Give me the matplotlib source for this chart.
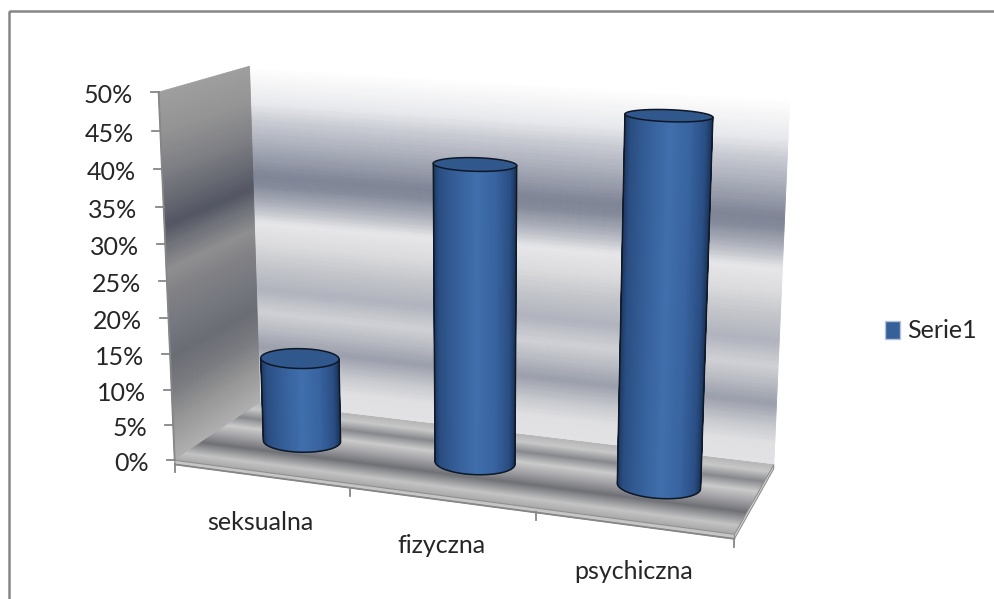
import numpy as np
import matplotlib
matplotlib.use('Agg')
import matplotlib.pyplot as plt
from matplotlib.collections import PolyCollection
from matplotlib.colors import LinearSegmentedColormap
from matplotlib.patches import Polygon, Patch, Rectangle

categories = ['seksualna', 'fizyczna', 'psychiczna']
values = [12, 41, 49]          # percent
series_name = 'Serie1'
y_ticks = list(range(0, 55, 5))
y_max = 50

plt.rcParams['font.family'] = ['Lato', 'DejaVu Sans']
TEXT = '#262626'
AXIS = '#868686'

W, H = 994, 599
fig = plt.figure(figsize=(W / 100, H / 100), dpi=100)
ax = fig.add_axes([0, 0, 1, 1])
ax.set_xlim(0, W)
ax.set_ylim(H, 0)
ax.axis('off')

n = len(categories)

# plot box: x = category index, y = depth (0 front, 1 back), z = value / y_max
box_world = np.array([(0, 0, 0), (0, 0, 1), (0, 1, 0), (0, 1, 1), (n, 1, 0),
                      (n, 1, 1), (n, 0, 0), (1, 0, 0), (2, 0, 0)], float)
box_px = np.array([(176, 460), (160, 90), (260, 403), (248, 67), (775, 463),
                   (790, 100), (735, 533), (349, 485), (533, 510)], float)


def fit_camera(world, px):
    # plain DLT, pixels scaled to about unit range first
    T = np.array([[1 / 500, 0, -1], [0, 1 / 500, -0.6], [0, 0, 1]])
    uv = (T @ np.column_stack([px, np.ones(len(px))]).T).T
    rows = []
    for (x, y, z), (u, v, _) in zip(world, uv):
        p = [x, y, z, 1.0]
        rows.append(p + [0] * 4 + [-u * c for c in p])
        rows.append([0] * 4 + p + [-v * c for c in p])
    _, _, vt = np.linalg.svd(np.array(rows))
    return np.linalg.inv(T) @ vt[-1].reshape(3, 4)


P = fit_camera(box_world, box_px)


def proj(x, y, z):
    x, y, z = np.broadcast_arrays(np.asarray(x, float), np.asarray(y, float),
                                  np.asarray(z, float))
    h = P @ np.vstack([x.ravel(), y.ravel(), z.ravel(), np.ones(x.size)])
    return np.column_stack([h[0] / h[2], h[1] / h[2]])


def ramp(stops):
    return LinearSegmentedColormap.from_list('', stops)


back_cmap = ramp([(0.00, '#e2e2e4'), (0.06, '#e0e0e2'), (0.11, '#c8c9ce'),
                  (0.175, '#9a9eab'), (0.23, '#b8bac2'), (0.28, '#d0d1d5'),
                  (0.35, '#b0b3bd'), (0.42, '#c4c5ca'), (0.49, '#dcdcde'),
                  (0.55, '#e6e6e8'), (0.605, '#b0b3bd'), (0.66, '#848a9a'),
                  (0.69, '#7f8496'), (0.775, '#a8acb8'), (0.845, '#c8cad2'),
                  (0.90, '#e8e9ec'), (0.96, '#f6f6f7'), (1.00, '#ffffff')])
left_cmap = ramp([(0.00, '#b0b0b0'), (0.11, '#969696'), (0.20, '#7a7b80'),
                  (0.29, '#6a6c74'), (0.37, '#74767e'), (0.46, '#808084'),
                  (0.53, '#8e8e90'), (0.60, '#6e7078'), (0.65, '#525562'),
                  (0.69, '#5e616c'), (0.80, '#7e7f84'), (0.90, '#939393'),
                  (1.00, '#9e9e9e')])
floor_cmap = ramp([(0.00, '#a8a8a8'), (0.12, '#c4c4c4'), (0.30, '#707176'),
                   (0.45, '#a2a2a6'), (0.60, '#cbcbcb'), (0.75, '#88898e'),
                   (0.90, '#c8c8c8'), (1.00, '#b8b8b8')])
side_cmap = ramp([(0.00, '#1c365c'), (0.07, '#2a4e82'), (0.25, '#345d97'),
                  (0.52, '#406fad'), (0.75, '#3864a0'), (0.93, '#2a4e84'),
                  (1.00, '#1c365c')])
CAP = '#31588c'
EDGE = '#0f1826'


def strips(corners, cmap, zorder, steps=180):
    t = np.linspace(0, 1, steps + 1)
    polys = [corners(a, b) for a, b in zip(t[:-1], t[1:])]
    cols = [cmap((a + b) / 2) for a, b in zip(t[:-1], t[1:])]
    ax.add_collection(PolyCollection(polys, facecolors=cols, edgecolors=cols,
                                     linewidths=0.6, zorder=zorder))


# walls and floor
strips(lambda a, b: proj([0, n, n, 0], 1, [a, a, b, b]), back_cmap, 1)
strips(lambda a, b: proj(0, [0, 1, 1, 0], [a, a, b, b]), left_cmap, 1.5)
strips(lambda a, b: proj([0, n, n, 0], [a, a, b, b], 0), floor_cmap, 2)

slab = 0.012
ax.add_patch(Polygon(proj([0, n, n, 0], 0, [0, 0, -slab, -slab]),
                     fc='#c6c6c6', ec='#909090', lw=0.8, zorder=2.2))
ax.add_patch(Polygon(proj(n, [0, 1, 1, 0], [0, 0, -slab, -slab]),
                     fc='#d8d8d8', ec='#909090', lw=0.8, zorder=2.2))

# value axis along the front-left edge
edge = proj(0, 0, [0, 1])
ax.plot(edge[:, 0], edge[:, 1], color=AXIS, lw=1.3, zorder=3)
for v in y_ticks:
    px, py = proj(0, 0, v / y_max)[0]
    ax.plot([px - 8, px], [py, py], color=AXIS, lw=1.3, zorder=3)
    ax.text(px - 26, py + 11, f'{v}%', ha='right', va='baseline',
            fontsize=18, color=TEXT)

# category axis along the front edge
front = proj([0, n], 0, -slab)
ax.plot(front[:, 0], front[:, 1], color=AXIS, lw=1.3, zorder=3)
for k in range(n + 1):
    px, py = proj(k, 0, -slab)[0]
    ax.plot([px, px], [py, py + 8], color=AXIS, lw=1.3, zorder=3)
for k, name in enumerate(categories):
    px, py = proj(k + 0.5, 0, 0)[0]
    ax.text(px, py + 58, name, ha='center', va='baseline', fontsize=18,
            color=TEXT)

# cylinders
rx, ry = 0.215, 0.175
theta = np.linspace(0, 2 * np.pi, 361)[:-1]
for k, v in enumerate(values):
    xs = k + 0.5 + rx * np.cos(theta)
    ys = 0.5 + ry * np.sin(theta)
    bot = proj(xs, ys, 0)
    top = proj(xs, ys, v / y_max)
    m = len(theta)
    iL, iR = np.argmin(bot[:, 0]), np.argmax(bot[:, 0])
    arc_a = [(iL + j) % m for j in range((iR - iL) % m + 1)]
    arc_b = [(iR + j) % m for j in range((iL - iR) % m + 1)]
    arc = arc_a if bot[arc_a, 1].mean() > bot[arc_b, 1].mean() else arc_b
    x0, x1 = bot[:, 0].min(), bot[:, 0].max()
    polys, cols = [], []
    for a, b in zip(arc[:-1], arc[1:]):
        polys.append([bot[a], bot[b], top[b], top[a]])
        u = ((bot[a, 0] + bot[b, 0]) / 2 - x0) / (x1 - x0)
        cols.append(side_cmap(u))
    z0 = 5 + k
    ax.add_collection(PolyCollection(polys, facecolors=cols, edgecolors=cols,
                                     linewidths=0.5, zorder=z0))
    ax.add_patch(Polygon(top, fc=CAP, ec=EDGE, lw=1.1, zorder=z0 + 0.2))
    outline = np.vstack([top[arc[0]], bot[arc], top[arc[-1]]])
    ax.plot(outline[:, 0], outline[:, 1], color=EDGE, lw=1.1, zorder=z0 + 0.1)

# chart area border (right and bottom sides run off the page)
ax.add_patch(Rectangle((8.5, 11), W, H, fill=False, ec=AXIS, lw=1.8, zorder=10))

fig.legend(handles=[Patch(fc='#35609a', ec='#b4c2dc', lw=1)],
           labels=[series_name], loc='center left',
           bbox_to_anchor=(885 / W, 1 - 331 / H), frameon=False, fontsize=18,
           handlelength=0.6, handleheight=0.75, handletextpad=0.3,
           borderpad=0, borderaxespad=0, labelcolor=TEXT)

fig.savefig('out.png', dpi=100)
